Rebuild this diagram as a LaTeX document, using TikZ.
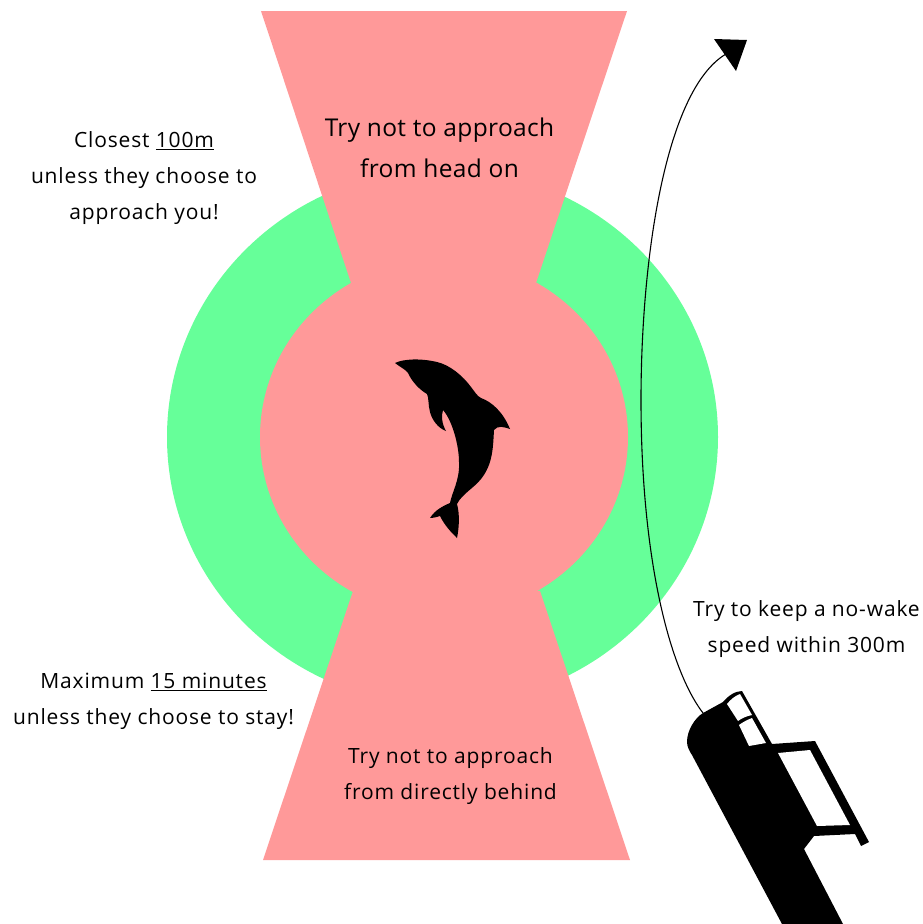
\documentclass[tikz,border=0pt]{standalone}
\usepackage{fontspec}
\setmainfont{Open Sans}
\newfontfamily\notefont[LetterSpace=4]{Open Sans}
\newfontfamily\bigfont[LetterSpace=1.5]{Open Sans}
\definecolor{ringgreen}{HTML}{66FF99}
\definecolor{zonered}{HTML}{FF9999}
\tikzset{
  note/.style={align=center,font=\notefont\fontsize{21}{36}\selectfont,text=black,inner sep=0pt},
  bignote/.style={align=center,font=\bigfont\fontsize{24.5}{41}\selectfont,text=black,inner sep=0pt},
  zone/.style={fill=zonered,draw=none},
  solidblack/.style={fill=black,draw=none},
  pane/.style={fill=white,draw=none}
}
\begin{document}
\begin{tikzpicture}[x=1pt,y=-1pt]
\useasboundingbox (0,0) rectangle (922,924);
\fill[white] (0,0) rectangle (922,924);
\fill[ringgreen] (442.5,437) ellipse[x radius=275.5,y radius=268];
\fill[zone] (444,437) ellipse[x radius=184,y radius=178.5];
\fill[zone] (261,11) -- (627,11) -- (536,283) -- (351,283) -- cycle;
\fill[zone] (353,591) -- (540,591) -- (630,860) -- (263,860) -- cycle;
% dolphin
\fill[solidblack] (395,363) .. controls (403,359) and (420,358) .. (437,362)
 .. controls (450,365) and (463,376) .. (471,387)
 .. controls (475,392) and (477,396) .. (481,398)
 .. controls (492,402) and (503,412) .. (510,429)
 .. controls (504,427) and (498,425) .. (494,430)
 .. controls (493,447) and (493,464) .. (481,479)
 .. controls (474,488) and (462,494) .. (457,504)
 .. controls (460,515) and (459,528) .. (457,538)
 .. controls (451,532) and (445,526) .. (440,516)
 .. controls (437,517) and (433,518) .. (430,518)
 .. controls (435,510) and (443,506) .. (450,503)
 .. controls (452,492) and (460,480) .. (459,462)
 .. controls (459,445) and (452,420) .. (443,410)
 .. controls (441,416) and (442,424) .. (446,431)
 .. controls (438,428) and (432,420) .. (430,412)
 .. controls (428,405) and (429,398) .. (427,394)
 .. controls (420,390) and (412,382) .. (408,373)
 .. controls (405,369) and (400,367) .. (395,363) -- cycle;
% boat
\fill[solidblack] (703,713) .. controls (695,718) and (687,730) .. (687,742)
 .. controls (687,747) and (690,752) .. (692,755) -- (782,924) -- (843,924) -- (804,849) -- (814,836) -- (855,834) -- (861,846) -- (869,842) -- (815,741) -- (772,744) -- (742,691)
 .. controls (735,691) and (728,696) .. (723,702) -- cycle;
\fill[pane] (727,704) .. controls (731,699) and (735,696) .. (740,694) -- (752,715) .. controls (747,716) and (742,718) .. (738,721) -- cycle;
\fill[pane] (739,725) .. controls (743,722) and (747,720) .. (752,718) -- (766,743) -- (749,746) -- cycle;
\fill[pane] (778,753) -- (810,750) -- (850,825) -- (817,826) -- cycle;
% wake path
\coordinate (bow) at (703,713);
\coordinate (tip) at (726,54);
\draw[line width=1.1pt,black] (bow) .. controls (670,670) and (641,560) .. (641,400)
  .. controls (641,260) and (665,90) .. (tip);
\fill[solidblack] (714,39) -- (747,40) -- (736,71) -- cycle;
% texts
\node[bignote] (headon) at (439.5,148) {Try not to approach\\from head on};
\node[note] (closest) at (144,178) {Closest \underline{100m}\\unless they choose to\\approach you!};
\node[note] (maximum) at (153.5,701.5) {Maximum \underline{15 minutes}\\unless they choose to stay!};
\node[note] (behind) at (450.5,776) {Try not to approach\\from directly behind};
\node[note] (wake) at (806.5,629) {Try to keep a no-wake\\speed within 300m};
\end{tikzpicture}
\end{document}
